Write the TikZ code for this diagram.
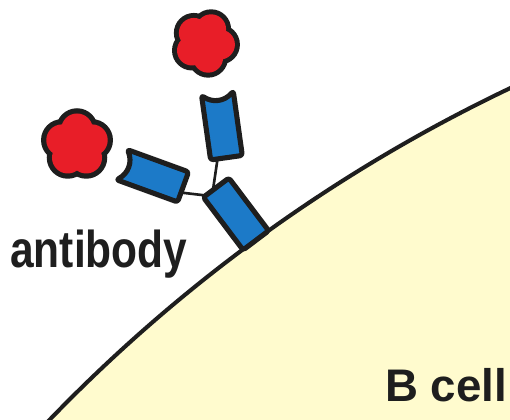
\documentclass[tikz,border=0pt]{standalone}
\usepackage{fontspec}
\setmainfont{Liberation Sans}
\definecolor{cellyellow}{RGB}{255,251,206}
\definecolor{abblue}{RGB}{28,122,200}
\definecolor{agred}{RGB}{232,30,40}
\definecolor{ink}{RGB}{30,30,30}
\begin{document}
\begin{tikzpicture}[x=0.02cm, y=0.02cm, line join=round]
\tikzstyle{chain} = [draw=ink, fill=abblue, line width=2.9pt, rounded corners=1.5pt]
\tikzstyle{hinge} = [draw=ink, line width=1.5pt]
\tikzstyle{lbl} = [text=ink, inner sep=0pt, anchor=base west]
  \useasboundingbox (0,0) rectangle (510,419);
  % cell surface, a big circle cut by the frame
  \begin{scope}
    \clip (0,0) rectangle (510,419);
    \filldraw[fill=cellyellow, draw=ink, line width=2.3pt] (1191,-1102) circle (1586);
  \end{scope}
  % hinge points
  \begin{scope}[shift={(236,205)}, rotate=37]
    \coordinate (stemtop) at (-4,33);
    \coordinate (stemleft) at (-13,33);
  \end{scope}
  \begin{scope}[shift={(222,293)}, rotate=8]
    \coordinate (upfoot) at (-9,-32);
  \end{scope}
  \begin{scope}[shift={(153,243)}, rotate=70]
    \coordinate (sidefoot) at (-6,-32);
  \end{scope}
  \draw[hinge] (upfoot) -- (stemtop);
  \draw[hinge] (sidefoot) -- (stemleft);
  % stem sitting on the membrane
  \begin{scope}[shift={(236,205)}, rotate=37]
    \draw[chain] (-16,-33) rectangle (16,33);
  \end{scope}
  % the two arms, concave end towards the antigen
  \foreach \cx/\cy/\rot in {222/293/8, 153/243/70}{
    \begin{scope}[shift={(\cx,\cy)}, rotate=\rot]
      \draw[chain] (-16,-32) -- (16,-32) -- (16,33)
        .. controls (6,24) and (-6,24) .. (-16,33) -- cycle;
    \end{scope}
  }
  % antigens
  \foreach \cx/\cy/\ph/\s in {205/376/-6/1, 77/274/18/1.05}{
    \begin{scope}[shift={(\cx,\cy)}, scale=\s]
      \foreach \k in {0,...,4} \fill[ink] (\ph+72*\k:15) circle (20);
      \fill[ink] (0,0) circle (22);
      \foreach \k in {0,...,4} \fill[agred] (\ph+72*\k:15) circle (15);
      \fill[agred] (0,0) circle (18);
    \end{scope}
  }
  \node[lbl, font=\fontsize{29.5}{32}\selectfont\bfseries, xscale=0.82] (ablabel) at (10,151) {antibody};
  \node[lbl, font=\fontsize{26}{28}\selectfont\bfseries] (celllabel) at (385,18) {B cell};
\end{tikzpicture}
\end{document}
